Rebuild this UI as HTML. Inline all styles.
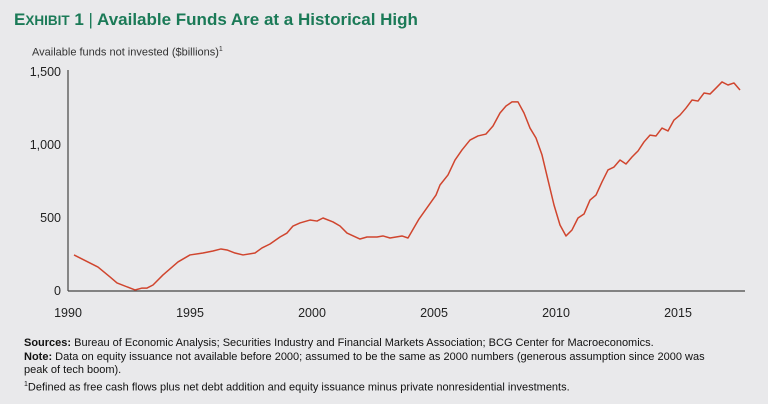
<!DOCTYPE html>
<html><head><meta charset="utf-8"><style>
body{margin:0;background:#e9e9eb;font-family:"Liberation Sans",sans-serif;}
#wrap{position:relative;width:768px;height:404px;overflow:hidden;background:#e9e9eb;}
.t{position:absolute;white-space:nowrap;}
</style></head><body>
<div id="wrap">
<div class="t" style="left:14px;top:10px;font-size:17px;font-weight:bold;color:#1b7a57;"><span style="font-size:17px">E<span style="font-size:13.5px">XHIBIT</span> 1</span> <span style="font-weight:normal">|</span> Available Funds Are at a Historical High</div>
<div class="t" style="left:32px;top:46px;font-size:11px;color:#333;">Available funds not invested ($billions)<sup style="font-size:7px">1</sup></div>
<svg id="chart" width="768" height="330" style="position:absolute;left:0;top:0"></svg>
<div class="t" style="left:24px;top:337px;font-size:11px;color:#111;line-height:13.5px;">
<b>Sources:</b> Bureau of Economic Analysis; Securities Industry and Financial Markets Association; BCG Center for Macroeconomics.<br>
<b>Note:</b> Data on equity issuance not available before 2000; assumed to be the same as 2000 numbers (generous assumption since 2000 was<br>peak of tech boom).<br>
<sup style="font-size:7px">1</sup>Defined as free cash flows plus net debt addition and equity issuance minus private nonresidential investments.</div>
</div>
<script>
const xPx=[74,98,110,117,135,142,147,153,163,178,190,203,213,221,227,235,243,255,262,270,280,287,293,300,310,317,323,333,340,347,360,367,377,383,390,402,408,419,436,440,448,455,462,470,478,486,493,500,506,512,518,524,530,536,542,548,554,560,566,572,578,584,590,596,602,608,614,620,626,632,638,644,650,656,662,668,674,680,686,692,698,704,710,716,722,728,734,740];
const years=xPx.map(p=>1990+(p-68)/24.4);
const values=[247,164,96,55,7,20,20,41,110,199,247,260,274,288,281,260,247,260,295,322,370,397,445,466,486,479,500,473,445,397,356,370,370,377,363,377,363,493,657,726,795,897,966,1034,1062,1075,1130,1219,1267,1295,1295,1219,1116,1048,932,760,589,452,377,418,500,527,623,657,747,829,849,897,870,918,959,1021,1068,1062,1116,1096,1171,1205,1253,1308,1301,1356,1349,1390,1432,1411,1425,1377];
const xTicks=[1990,1995,2000,2005,2010,2015];
const yTicks=[0,500,1000,1500];
const yLabels=["0","500","1,000","1,500"];
const X=v=>68+(v-1990)*24.4;
const Y=v=>291-v*0.146;
const svg=document.getElementById('chart');
const NS='http://www.w3.org/2000/svg';
function mk(t,a){const e=document.createElementNS(NS,t);for(const k in a)e.setAttribute(k,a[k]);svg.appendChild(e);return e;}
let ax=mk('line',{x1:68,y1:70,x2:68,y2:291,stroke:'#444','stroke-width':1.2});


let bx=mk('line',{x1:68,y1:291,x2:745,y2:291,stroke:'#444','stroke-width':1.2});


yTicks.forEach((v,i)=>{const t=mk('text',{x:61,y:Y(v)+4,'text-anchor':'end','font-size':12.5,fill:'#222','font-family':'Liberation Sans'});t.textContent=yLabels[i];

});
xTicks.forEach(v=>{const t=mk('text',{x:X(v),y:317,'text-anchor':'middle','font-size':12.5,fill:'#222','font-family':'Liberation Sans'});t.textContent=v;

});
const p=mk('polyline',{points:years.map((y,i)=>X(y)+','+Y(values[i])).join(' '),fill:'none',stroke:'#d0452e','stroke-width':1.5,'stroke-linejoin':'round'});


</script>
</body></html>
